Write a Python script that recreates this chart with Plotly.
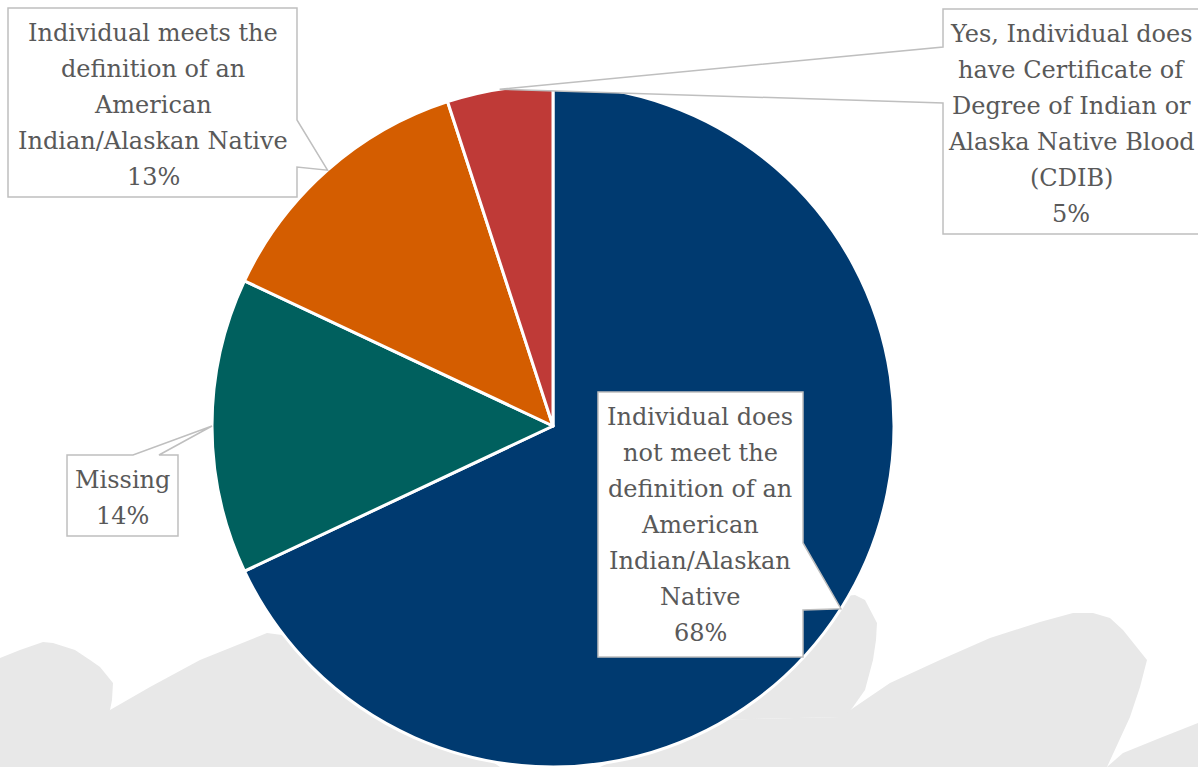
import math
import plotly.graph_objects as go

# ---------------- data ----------------
categories = [
    "Individual does not meet the definition of an American Indian/Alaskan Native",
    "Missing",
    "Individual meets the definition of an American Indian/Alaskan Native",
    "Yes, Individual does have Certificate of Degree of Indian or Alaska Native Blood (CDIB)",
]
values = [68, 14, 13, 5]
label_lines = [
    ["Individual does", "not meet the", "definition of an", "American", "Indian/Alaskan", "Native"],
    ["Missing"],
    ["Individual meets the", "definition of an", "American", "Indian/Alaskan Native"],
    ["Yes, Individual does", "have Certificate of", "Degree of Indian or", "Alaska Native Blood", "(CDIB)"],
]
colors = ["#003A70", "#00605E", "#D45D00", "#BF3A37"]

# ---------------- layout (pixels) ----------------
W, H = 1198, 767
CX, CY, R = 553, 426, 341
# callout boxes: (left, top, right, bottom), pointer side, pointer base coords, text centre x
boxes = [
    ((598, 392, 803, 657), "right", (543, 610), 700),
    ((67, 455, 178, 536), "top", (133, 159), 122),
    ((8, 8, 297, 197), "right", (120, 167), 153),
    ((943, 9, 1203, 234), "left", (47, 103), 1071),
]
TEXT_COLOR = "#595959"
BORDER = "#BFBFBF"
FONT = "DejaVu Serif"
FS = 24
LINE_STEP = 36
FIRST_OFF = 25

# decorative mountain backdrop polygons (pixels)
mountains = [
    [(0, 658), (20, 650), (43, 642), (53, 643), (75, 650), (90, 660), (100, 667), (113, 683),
     (112, 700), (110, 710), (100, 767), (0, 767)],
    [(60, 767), (110, 710), (150, 687), (200, 660), (267, 633), (320, 640), (500, 767)],
    [(800, 600), (855, 595), (865, 600), (877, 623), (876, 640), (873, 660), (865, 690),
     (853, 707), (845, 717), (700, 720)],
    [(600, 767), (700, 720), (840, 717), (890, 683), (940, 660), (990, 638), (1040, 622),
     (1073, 613), (1093, 613), (1110, 618), (1123, 630), (1147, 660), (1140, 687),
     (1130, 717), (1107, 767)],
    [(1107, 767), (1123, 753), (1160, 738), (1198, 723), (1198, 767)],
]


def px(x):
    return x / W


def py(y):
    return 1 - y / H


def path_of(pts):
    return "M " + " L ".join(f"{px(x):.5f},{py(y):.5f}" for x, y in pts) + " Z"


fig = go.Figure(
    go.Pie(
        labels=categories,
        values=values,
        sort=False,
        direction="clockwise",
        rotation=0,
        marker=dict(colors=colors, line=dict(color="white", width=3)),
        textinfo="none",
        hoverinfo="label+percent",
        showlegend=False,
        domain=dict(x=[px(CX - R), px(CX + R)], y=[py(CY + R), py(CY - R)]),
    )
)

shapes = []
for m in mountains:
    shapes.append(dict(type="path", xref="paper", yref="paper", layer="below",
                       path=path_of(m), fillcolor="#E8E8E8", line=dict(width=0)))

total = sum(values)
cum = 0
annotations = []
for i, v in enumerate(values):
    mid = (cum + v / 2) / total * 2 * math.pi
    cum += v
    tip = (CX + R * math.sin(mid), CY - R * math.cos(mid))
    (l, t, r, b), side, (b1, b2), xc = boxes[i]
    if side == "top":
        pts = [(l, t), (b1, t), tip, (b2, t), (r, t), (r, b), (l, b)]
    elif side == "right":
        pts = [(l, t), (r, t), (r, b1), tip, (r, b2), (r, b), (l, b)]
    else:
        pts = [(l, t), (r, t), (r, b), (l, b), (l, b2), tip, (l, b1)]
    shapes.append(dict(type="path", xref="paper", yref="paper", layer="above",
                       path=path_of(pts), fillcolor="white",
                       line=dict(color=BORDER, width=1.5)))
    lines = label_lines[i] + [f"{v}%"]
    for k, txt in enumerate(lines):
        annotations.append(dict(
            x=px(xc), y=py(t + FIRST_OFF + k * LINE_STEP), xref="paper", yref="paper",
            text=txt, showarrow=False, xanchor="center", yanchor="middle",
            font=dict(family=FONT, size=FS, color=TEXT_COLOR),
        ))

fig.update_layout(
    width=W, height=H,
    margin=dict(l=0, r=0, t=0, b=0),
    paper_bgcolor="white", plot_bgcolor="white",
    shapes=shapes, annotations=annotations,
)

fig.write_html(
    "out.html",
    config={"displayModeBar": False},
    post_script="document.body.style.margin='0';document.body.style.overflow='hidden';"
                "document.documentElement.style.overflow='hidden';",
)
